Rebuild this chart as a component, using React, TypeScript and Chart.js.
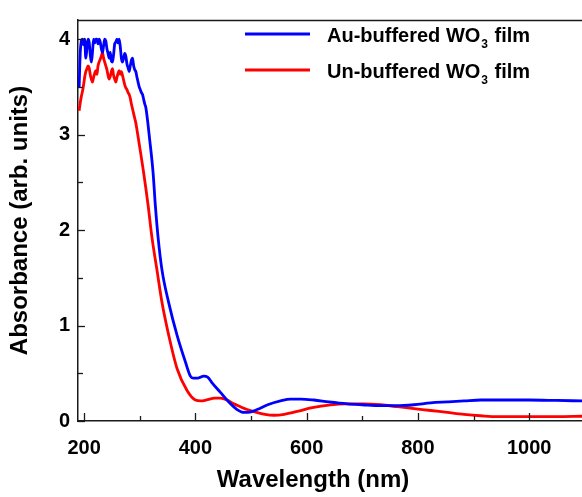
import React, { useEffect, useRef } from 'react';
import { Chart, registerables } from 'chart.js';

Chart.register(...registerables);

// ---- Data ----
const auWavelength = [
  191, 193, 195, 197, 199, 201, 203, 205, 207, 209, 211, 213, 215, 217, 219, 221, 223, 225, 227, 229,
  231, 233, 235, 237, 239, 241, 243, 245, 247, 249, 251, 253, 255, 257, 259, 261, 263, 265, 267, 269,
  271, 273, 275, 277, 279, 281, 283, 285, 287, 289, 291, 293, 295, 297, 299, 301, 303, 305, 307, 309,
  311, 318, 324, 328, 333, 340, 352, 367, 382, 391, 396, 405, 415, 422, 430, 445, 460, 475, 487, 495,
  511, 530, 553, 571, 590, 613, 640, 673, 700, 733, 760, 793, 823, 853, 883, 913, 960, 1000, 1050, 1095,
];
const auAbsorbance = [
  3.49, 3.85, 3.98, 4.0, 3.94, 4.0, 3.8, 3.9, 4.0, 3.97, 3.84, 3.76, 3.86, 4.0, 3.96, 4.0, 4.0, 3.95, 4.0, 3.97,
  3.9, 3.86, 3.93, 4.0, 3.98, 3.9, 3.85, 3.8, 3.86, 3.77, 3.76, 3.84, 3.95, 3.97, 4.0, 3.96, 4.0, 3.92, 3.8, 3.76,
  3.8, 3.85, 3.82, 3.74, 3.7, 3.66, 3.72, 3.78, 3.8, 3.72, 3.68, 3.66, 3.6, 3.55, 3.5, 3.47, 3.44, 3.42, 3.37, 3.32,
  3.28, 2.94, 2.6, 2.26, 1.92, 1.58, 1.24, 0.9, 0.62, 0.47, 0.45, 0.45, 0.47, 0.46, 0.4, 0.3, 0.2, 0.12, 0.09, 0.09,
  0.12, 0.17, 0.21, 0.23, 0.23, 0.22, 0.2, 0.18, 0.17, 0.16, 0.16, 0.17, 0.19, 0.2, 0.21, 0.22, 0.22, 0.22, 0.215, 0.21,
];

const unWavelength = [
  191, 193, 195, 197, 199, 201, 203, 205, 207, 209, 211, 213, 215, 217, 219, 221, 223, 225, 227, 229,
  231, 233, 235, 237, 239, 241, 243, 245, 247, 249, 251, 253, 255, 257, 259, 261, 263, 265, 267, 269,
  271, 273, 275, 277, 279, 281, 283, 285, 287, 289, 291, 293, 295, 298, 307, 315, 322, 331, 340, 352,
  367, 385, 400, 410, 420, 435, 445, 457, 469, 481, 493, 510, 525, 541, 560, 583, 610, 643, 670, 703,
  733, 763, 793, 823, 853, 883, 913, 943, 1000, 1050, 1095,
];
const unAbsorbance = [
  3.25, 3.33, 3.4, 3.45, 3.52, 3.6, 3.66, 3.69, 3.72, 3.7, 3.63, 3.58, 3.55, 3.6, 3.64, 3.67, 3.63, 3.72, 3.76, 3.79,
  3.82, 3.86, 3.8, 3.76, 3.72, 3.68, 3.62, 3.58, 3.61, 3.66, 3.69, 3.62, 3.58, 3.55, 3.6, 3.64, 3.67, 3.63, 3.66, 3.62,
  3.57, 3.52, 3.49, 3.47, 3.44, 3.42, 3.38, 3.32, 3.27, 3.22, 3.17, 3.12, 3.05, 2.94, 2.6, 2.26, 1.92, 1.58, 1.24, 0.9,
  0.55, 0.32, 0.22, 0.21, 0.22, 0.24, 0.24, 0.22, 0.18, 0.15, 0.12, 0.09, 0.07, 0.06, 0.07, 0.1, 0.14, 0.17, 0.18, 0.18,
  0.17, 0.15, 0.13, 0.11, 0.09, 0.07, 0.055, 0.045, 0.045, 0.045, 0.05,
];

const seriesLabels = ['Au-buffered WO₃ film', 'Un-buffered WO₃ film'];
const seriesColors = ['#0000ff', '#ff0000'];

const xTickValues = [200, 300, 400, 500, 600, 700, 800, 900, 1000];
const xMajorTicks = [200, 400, 600, 800, 1000];
const yTickValues = [0, 0.5, 1, 1.5, 2, 2.5, 3, 3.5, 4];
const yMajorTicks = [0, 1, 2, 3, 4];

const xAxisTitle = 'Wavelength (nm)';
const yAxisTitle = 'Absorbance (arb. units)';

const FONT = '"Liberation Sans", Arial, Helvetica, sans-serif';

const decorPlugin = {
  id: 'decor',
  afterDraw(chart: any) {
    const { ctx, chartArea, scales } = chart;
    const xs = scales.x;
    const ys = scales.y;
    ctx.save();
    ctx.strokeStyle = '#1a1a1a';
    ctx.lineWidth = 1.5;
    // top frame line
    ctx.beginPath();
    ctx.moveTo(chartArea.left, chartArea.top + 0.5);
    ctx.lineTo(chartArea.right, chartArea.top + 0.5);
    ctx.stroke();
    // inward x ticks
    ctx.lineWidth = 1.3;
    xTickValues.forEach((v) => {
      const px = Math.round(xs.getPixelForValue(v)) + 0.5;
      const len = xMajorTicks.includes(v) ? 8 : 5;
      ctx.beginPath();
      ctx.moveTo(px, chartArea.bottom);
      ctx.lineTo(px, chartArea.bottom - len);
      ctx.stroke();
    });
    // inward y ticks
    yTickValues.forEach((v) => {
      const py = Math.round(ys.getPixelForValue(v)) + 0.5;
      const len = yMajorTicks.includes(v) ? 7 : 5;
      ctx.beginPath();
      ctx.moveTo(chartArea.left, py);
      ctx.lineTo(chartArea.left + len, py);
      ctx.stroke();
    });

    // legend with subscript
    const legendRows = [34, 70];
    chart.data.datasets.forEach((ds: any, i: number) => {
      const y = legendRows[i];
      ctx.strokeStyle = ds.borderColor;
      ctx.lineWidth = 3;
      ctx.beginPath();
      ctx.moveTo(245, y);
      ctx.lineTo(310, y);
      ctx.stroke();
      const [before, after] = String(ds.label).split('₃');
      ctx.fillStyle = '#000';
      ctx.textAlign = 'left';
      ctx.textBaseline = 'alphabetic';
      ctx.font = `bold 20px ${FONT}`;
      let x = 327;
      const base = y + 7.5;
      ctx.fillText(before, x, base);
      x += ctx.measureText(before).width + 1;
      ctx.font = `bold 12px ${FONT}`;
      ctx.fillText('3', x, base + 6);
      x += ctx.measureText('3').width + 1;
      ctx.font = `bold 20px ${FONT}`;
      ctx.fillText(after, x, base);
    });

    // x-axis title
    ctx.fillStyle = '#000';
    ctx.font = `bold 24px ${FONT}`;
    ctx.textAlign = 'center';
    ctx.textBaseline = 'middle';
    ctx.fillText(xAxisTitle, 313, 480);
    ctx.restore();
  },
};

export default function App() {
  const canvasRef = useRef<HTMLCanvasElement | null>(null);

  useEffect(() => {
    if (!canvasRef.current) return;
    const chart = new Chart(canvasRef.current, {
      type: 'line',
      data: {
        datasets: [
          {
            label: seriesLabels[0],
            data: auWavelength.map((x, i) => ({ x, y: auAbsorbance[i] })),
            borderColor: seriesColors[0],
            backgroundColor: seriesColors[0],
            borderWidth: 2.8,
            pointRadius: 0,
            cubicInterpolationMode: 'monotone',
            fill: false,
          },
          {
            label: seriesLabels[1],
            data: unWavelength.map((x, i) => ({ x, y: unAbsorbance[i] })),
            borderColor: seriesColors[1],
            backgroundColor: seriesColors[1],
            borderWidth: 2.8,
            pointRadius: 0,
            cubicInterpolationMode: 'monotone',
            fill: false,
          },
        ],
      },
      options: {
        responsive: false,
        animation: false,
        devicePixelRatio: 1,
        layout: { padding: { top: 10, right: 0, left: 0, bottom: 0 } },
        plugins: {
          legend: { display: false },
          tooltip: { enabled: false },
        },
        scales: {
          x: {
            type: 'linear',
            min: 189,
            max: 1095,
            afterFit: (s: any) => {
              s.height = 76;
            },
            afterBuildTicks: (s: any) => {
              s.ticks = xTickValues.map((v) => ({ value: v }));
            },
            ticks: {
              autoSkip: false,
              maxRotation: 0,
              padding: 15,
              color: '#000',
              font: { family: FONT, size: 20, weight: 'bold' },
              callback: (v: any) => (xMajorTicks.includes(Number(v)) ? String(v) : ''),
            },
            grid: { display: false, drawTicks: false },
            border: { display: true, color: '#1a1a1a', width: 1.5 },
            title: { display: false, text: xAxisTitle },
          },
          y: {
            type: 'linear',
            min: 0,
            max: 4.2,
            afterFit: (s: any) => {
              s.width = 78;
            },
            afterBuildTicks: (s: any) => {
              s.ticks = yTickValues.map((v) => ({ value: v }));
            },
            ticks: {
              autoSkip: false,
              padding: 8,
              color: '#000',
              font: { family: FONT, size: 20, weight: 'bold' },
              callback: (v: any) => (yMajorTicks.includes(Number(v)) ? String(v) : ''),
            },
            grid: { display: false, drawTicks: false },
            border: { display: true, color: '#1a1a1a', width: 1.5 },
            title: {
              display: true,
              text: yAxisTitle,
              color: '#000',
              font: { family: FONT, size: 24, weight: 'bold' },
              padding: { top: 6, bottom: 0 },
            },
          },
        },
      },
      plugins: [decorPlugin],
    } as any);
    return () => chart.destroy();
  }, []);

  return (
    <div style={{ position: 'absolute', left: 0, top: 0, width: 582, height: 497, background: '#fff' }}>
      <canvas ref={canvasRef} width={582} height={497} style={{ display: 'block' }} />
    </div>
  );
}
